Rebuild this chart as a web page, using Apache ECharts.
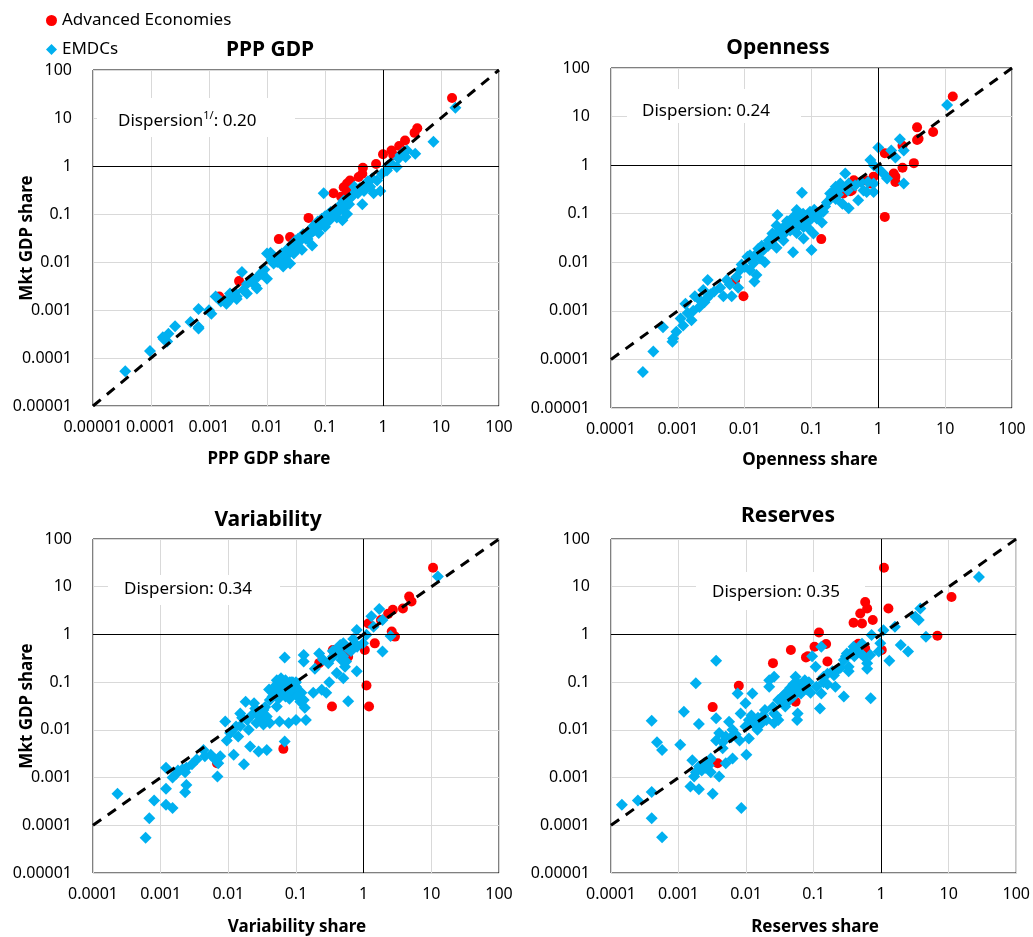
<!DOCTYPE html>
<html>
<head>
<meta charset="utf-8">
<title>Mkt GDP share vs quota variables</title>
<script src="https://cdn.jsdelivr.net/npm/echarts/dist/echarts.min.js"></script>
<style>
  html, body { margin: 0; padding: 0; background: #fff; }
  #main { width: 1033px; height: 937px; }
</style>
</head>
<body>
<div id="main"></div>
<script>
  // panel titles / axis names / dispersion notes
  const panelTitles = ['PPP GDP', 'Openness', 'Variability', 'Reserves'];
  const xNames = ['PPP GDP share', 'Openness share', 'Variability share', 'Reserves share'];
  const yName = 'Mkt GDP share';
  const dispersion = ['0.20', '0.24', '0.34', '0.35'];
  const xMins = [0.00001, 0.0001, 0.0001, 0.0001];
  const yMin = 0.00001;
  const axisMax = 100;

  // 45 degree reference lines
  const diagPPP = [[0.00001, 0.00001], [100, 100]];
  const diagOpen = [[0.0001, 0.0001], [100, 100]];
  const diagVar = [[0.0001, 0.0001], [100, 100]];
  const diagRes = [[0.0001, 0.0001], [100, 100]];

  // [x share, mkt GDP share]
  const pppAdv = [
    [15.5, 26], [3.9, 6.1], [3.5, 4.9], [2.4, 3.4], [1.9, 2.6], [1.4, 2.1], [1.5, 1.7], [1.0, 1.75],
    [0.76, 1.1], [0.45, 0.92], [0.44, 0.69], [0.38, 0.59], [0.27, 0.5], [0.24, 0.43], [0.21, 0.36],
    [0.24, 0.29], [0.14, 0.27], [0.19, 0.23], [0.052, 0.083], [0.016, 0.030], [0.025, 0.033],
    [0.0033, 0.004], [0.0015, 0.0019]
  ];
  const pppEm = [
    [3.6e-5, 5.3e-5], [9.6e-5, 1.4e-4], [1.6e-4, 2.7e-4], [1.9e-4, 2.2e-4], [2.0e-4, 3.2e-4], [2.6e-4, 4.6e-4],
    [4.8e-4, 5.6e-4], [6.6e-4, 4.4e-4], [6.6e-4, 1.05e-3], [1.0e-3, 9.9e-4], [1.1e-3, 8.4e-4], [1.3e-3, 1.9e-3],
    [1.6e-3, 1.5e-3], [2.0e-3, 1.35e-3], [2.3e-3, 2.2e-3], [3.0e-3, 1.7e-3], [3.7e-3, 6.2e-3], [3.9e-3, 2.6e-3],
    [4.5e-3, 2.2e-3], [6.3e-3, 3.2e-3], [6.7e-3, 2.8e-3], [8.2e-3, 5.6e-3], [0.010, 4.5e-3], [0.0115, 0.0155],
    [0.013, 0.0093], [0.016, 0.0115], [0.019, 0.0081], [0.022, 0.0137], [0.025, 0.0093], [0.029, 0.015],
    [0.027, 0.020], [0.033, 0.022], [0.037, 0.028], [0.040, 0.018], [0.049, 0.040], [0.060, 0.022],
    [0.064, 0.045], [0.073, 0.063], [0.078, 0.040], [0.095, 0.27], [0.10, 0.054], [0.12, 0.074],
    [0.14, 0.10], [0.16, 0.085], [0.18, 0.12], [0.20, 0.074], [0.22, 0.14], [0.24, 0.10], [0.21, 0.19],
    [0.32, 0.37], [0.37, 0.27], [0.44, 0.16], [0.47, 0.30], [0.60, 0.37], [0.69, 0.27], [0.90, 0.30],
    [0.79, 0.50], [0.96, 0.69], [1.17, 0.81], [1.73, 0.95], [1.86, 1.43], [2.45, 1.54], [2.6, 2.1],
    [3.6, 1.8], [7.4, 3.2], [17.7, 16.4],
    [0.03, 0.025], [0.045, 0.035], [0.055, 0.045], [0.07, 0.05], [0.085, 0.06], [0.11, 0.08], [0.13, 0.09],
    [0.05, 0.03], [0.035, 0.02], [0.02, 0.012], [0.015, 0.01], [0.04, 0.03], [0.09, 0.07], [0.06, 0.05],
    [0.008, 0.006], [0.012, 0.011], [1.65e-4, 2.5e-4], [3.0e-3, 1.9e-3], [6.6e-4, 4.1e-4], [0.01, 0.015],
    [0.0055, 0.004], [0.007, 0.005], [0.009, 0.007], [0.014, 0.012], [0.017, 0.013], [0.018, 0.015],
    [0.021, 0.016], [0.023, 0.019], [0.026, 0.017], [0.028, 0.024], [0.031, 0.028], [0.034, 0.03],
    [0.038, 0.033], [0.042, 0.038], [0.047, 0.03], [0.052, 0.042], [0.058, 0.04], [0.062, 0.055],
    [0.067, 0.06], [0.075, 0.07], [0.082, 0.065], [0.088, 0.08], [0.1, 0.09], [0.105, 0.07],
    [0.115, 0.1], [0.125, 0.11], [0.15, 0.12], [0.17, 0.14], [0.19, 0.16], [0.25, 0.2], [0.28, 0.22],
    [0.3, 0.25], [0.26, 0.16], [0.35, 0.3], [0.4, 0.35], [0.5, 0.42], [0.55, 0.48], [0.65, 0.55],
    [1.2, 1.0], [1.4, 1.1], [2.0, 1.7], [2.2, 1.9], [0.0045, 0.0035], [0.0025, 0.0018], [0.0028, 0.0023],
    [0.002, 0.0016]
  ];

  const openAdv = [
    [13, 26], [3.8, 6.0], [6.6, 4.8], [3.8, 3.3], [4.0, 3.5], [2.3, 2.5], [1.25, 1.75], [3.4, 1.1],
    [2.3, 0.88], [1.7, 0.67], [1.8, 0.58], [1.8, 0.45], [0.85, 0.58], [0.64, 0.49], [0.76, 0.42],
    [0.43, 0.49], [0.40, 0.30], [0.30, 0.26], [1.25, 0.086], [0.14, 0.03], [0.0096, 0.002],
    [0.0072, 0.0043], [0.38, 0.29]
  ];
  const openEm = [
    [10.7, 17.4], [2.1, 3.4], [1.0, 2.3], [1.56, 2.0], [2.4, 2.0], [1.8, 1.44], [0.76, 1.27], [0.85, 1.0],
    [1.0, 0.85], [1.19, 0.67], [1.35, 0.53], [0.85, 0.42], [0.85, 0.28], [2.4, 0.42], [0.67, 0.28],
    [0.50, 0.19], [0.32, 0.67], [0.36, 0.42], [0.27, 0.42], [0.23, 0.36], [0.19, 0.26], [0.23, 0.20],
    [0.36, 0.13], [0.29, 0.16], [0.072, 0.27], [0.16, 0.14], [0.107, 0.10], [0.09, 0.072], [0.143, 0.066],
    [0.076, 0.053], [0.060, 0.119], [0.053, 0.085], [0.042, 0.06], [0.031, 0.094], [0.030, 0.057],
    [0.026, 0.039], [0.038, 0.028], [0.053, 0.016], [0.10, 0.018], [0.076, 0.031], [0.107, 0.039],
    [0.0225, 0.022], [0.019, 0.018], [0.015, 0.015], [0.020, 0.010], [0.0135, 0.0095], [0.011, 0.013],
    [0.010, 0.008], [0.012, 0.0069], [0.015, 0.0055], [0.014, 0.004], [0.0085, 0.0069], [0.008, 0.003],
    [0.0054, 0.0043], [0.0043, 0.003], [0.0048, 0.002], [0.0064, 0.002], [0.0028, 0.0043], [0.0024, 0.0027],
    [0.0027, 0.0018], [0.0018, 0.002], [0.0021, 0.0012], [0.0017, 0.001], [0.0013, 0.0014], [0.0016, 0.00064],
    [0.0012, 0.0005], [0.00095, 0.00037], [0.00085, 0.00027], [0.00083, 0.00023], [0.0006, 0.00046],
    [0.00043, 0.000145], [0.0003, 5.5e-5],
    [0.04, 0.04], [0.05, 0.06], [0.065, 0.07], [0.08, 0.09], [0.11, 0.12], [0.12, 0.08], [0.045, 0.05],
    [0.035, 0.035], [0.02, 0.02], [0.025, 0.025], [0.017, 0.012], [0.03, 0.02], [0.06, 0.04], [0.09, 0.05],
    [0.7, 0.45], [0.6, 0.3], [0.55, 0.45], [0.45, 0.38], [0.35, 0.3],
    [0.033, 0.045], [0.038, 0.05], [0.043, 0.07], [0.048, 0.045], [0.055, 0.07], [0.058, 0.05],
    [0.062, 0.085], [0.07, 0.06], [0.075, 0.1], [0.085, 0.065], [0.095, 0.11], [0.1, 0.08], [0.13, 0.1],
    [0.15, 0.11], [0.17, 0.17], [0.2, 0.22], [0.22, 0.3], [0.25, 0.25], [0.28, 0.35], [0.027, 0.03],
    [0.023, 0.028], [0.018, 0.022], [0.016, 0.019], [0.013, 0.011], [0.012, 0.014], [0.009, 0.009],
    [0.0075, 0.005], [0.006, 0.0035], [0.0035, 0.0025], [0.0031, 0.0022], [0.0025, 0.0015],
    [0.0022, 0.0016], [0.0014, 0.0009], [0.0011, 0.0007]
  ];

  const varAdv = [
    [10.6, 25], [4.7, 6.2], [5.1, 4.9], [3.8, 3.5], [2.7, 3.3], [2.3, 2.7], [1.8, 2.0], [1.17, 1.7],
    [2.6, 1.15], [2.9, 0.9], [1.46, 0.65], [1.04, 0.47], [1.1, 0.085], [1.2, 0.031], [0.34, 0.031],
    [0.22, 0.25], [0.35, 0.47], [0.53, 0.40], [0.59, 0.34], [0.065, 0.004], [0.0068, 0.002]
  ];
  const varEm = [
    [12.5, 16.3], [1.7, 3.4], [1.3, 2.4], [1.4, 1.45], [1.9, 2.0], [0.79, 1.24], [1.1, 0.98], [0.98, 0.65],
    [0.74, 0.65], [1.9, 0.44], [2.5, 0.93], [0.50, 0.65], [0.42, 0.51], [0.35, 0.34], [0.47, 0.29],
    [0.53, 0.21], [0.79, 0.17], [0.40, 0.155], [0.31, 0.10], [0.5, 0.12], [0.59, 0.04], [0.22, 0.40],
    [0.13, 0.37], [0.13, 0.27], [0.068, 0.33], [0.19, 0.19], [0.24, 0.069], [0.28, 0.06], [0.18, 0.06],
    [0.13, 0.042], [0.135, 0.029], [0.14, 0.016], [0.10, 0.016], [0.078, 0.014], [0.068, 0.0057],
    [0.052, 0.11], [0.057, 0.081], [0.081, 0.10], [0.09, 0.06], [0.11, 0.064], [0.116, 0.039], [0.046, 0.06],
    [0.041, 0.042], [0.052, 0.031], [0.033, 0.026], [0.037, 0.019], [0.030, 0.018], [0.026, 0.014],
    [0.033, 0.013], [0.041, 0.014], [0.057, 0.015], [0.024, 0.036], [0.018, 0.039], [0.015, 0.022],
    [0.019, 0.016], [0.020, 0.010], [0.013, 0.0117], [0.0106, 0.0086], [0.009, 0.015], [0.0095, 0.006],
    [0.014, 0.0073], [0.021, 0.0045], [0.028, 0.0035], [0.037, 0.0038], [0.012, 0.003], [0.017, 0.0019],
    [0.0076, 0.0028], [0.0064, 0.0024], [0.0071, 0.002], [0.0069, 0.00105], [0.0043, 0.0038],
    [0.0034, 0.0024], [0.0029, 0.0019], [0.0024, 0.0016], [0.0023, 0.0013], [0.0017, 0.0012],
    [0.0015, 0.001], [0.0012, 0.0016], [0.0024, 0.0007], [0.0023, 0.00049], [0.0012, 0.00058],
    [0.0012, 0.00027], [0.0015, 0.00023], [0.0008, 0.00033], [0.00023, 0.00046], [0.00068, 0.00014],
    [0.0006, 5.5e-5],
    [0.06, 0.09], [0.065, 0.07], [0.075, 0.085], [0.085, 0.075], [0.05, 0.06], [0.045, 0.05], [0.1, 0.08],
    [0.12, 0.06], [0.09, 0.1], [0.07, 0.05], [0.035, 0.03], [0.025, 0.028], [0.015, 0.012], [0.011, 0.009],
    [0.6, 0.5], [0.45, 0.4], [0.65, 0.45], [0.8, 0.55], [0.55, 0.27], [0.5, 0.35],
    [0.055, 0.1], [0.06, 0.12], [0.065, 0.085], [0.07, 0.11], [0.075, 0.06], [0.08, 0.045], [0.085, 0.1],
    [0.095, 0.085], [0.1, 0.1], [0.105, 0.05], [0.06, 0.06], [0.048, 0.08], [0.04, 0.07], [0.055, 0.045],
    [0.3, 0.25], [0.35, 0.45], [0.4, 0.5], [0.45, 0.6], [0.55, 0.55], [0.7, 0.8], [0.25, 0.3],
    [0.028, 0.022], [0.022, 0.02], [0.016, 0.018], [0.0045, 0.0028], [0.0055, 0.003], [0.0018, 0.0014],
    [0.0021, 0.0015]
  ];

  const resAdv = [
    [1.1, 25], [11, 6.1], [6.8, 0.94], [1.28, 3.5], [0.58, 4.8], [0.62, 3.5], [0.49, 2.75], [0.52, 1.7],
    [0.39, 1.75], [0.75, 2.0], [1.02, 0.47], [0.58, 0.51], [0.46, 0.64], [0.12, 1.1], [0.153, 0.63],
    [0.103, 0.55], [0.082, 0.35], [0.077, 0.33], [0.16, 0.27], [0.046, 0.47], [0.025, 0.25],
    [0.0078, 0.084], [0.0032, 0.03], [0.054, 0.039], [0.0038, 0.002]
  ];
  const resEm = [
    [28, 16], [3.8, 3.5], [3.2, 2.35], [3.6, 2.0], [1.6, 1.45], [1.08, 1.23], [0.72, 0.97], [4.6, 0.89],
    [1.95, 0.6], [2.5, 0.44], [1.32, 0.28], [0.97, 0.65], [0.92, 0.44], [0.69, 0.37], [0.62, 0.25],
    [0.62, 0.19], [0.52, 0.64], [0.39, 0.55], [0.31, 0.40], [0.28, 0.29], [0.33, 0.21], [0.235, 0.19],
    [0.20, 0.14], [0.33, 0.17], [0.70, 0.046], [0.13, 0.55], [0.095, 0.35], [0.107, 0.21], [0.14, 0.13],
    [0.21, 0.08], [0.28, 0.05], [0.13, 0.058], [0.124, 0.028], [0.11, 0.08], [0.074, 0.11], [0.058, 0.08],
    [0.065, 0.058], [0.048, 0.068], [0.038, 0.058], [0.054, 0.13], [0.026, 0.13], [0.022, 0.11],
    [0.022, 0.08], [0.030, 0.042], [0.038, 0.031], [0.058, 0.022], [0.057, 0.016], [0.026, 0.022],
    [0.030, 0.016], [0.026, 0.014], [0.019, 0.026], [0.020, 0.016], [0.0124, 0.058], [0.0098, 0.036],
    [0.0083, 0.022], [0.011, 0.016], [0.0147, 0.01], [0.0098, 0.0117], [0.011, 0.0066], [0.008, 0.006],
    [0.0101, 0.003], [0.0085, 0.00023], [0.0075, 0.058], [0.0056, 0.0148], [0.0063, 0.01], [0.005, 0.0073],
    [0.004, 0.0086], [0.0036, 0.006], [0.0045, 0.0041], [0.005, 0.002], [0.0063, 0.0025], [0.0036, 0.0175],
    [0.004, 0.00105], [0.0029, 0.0023], [0.0024, 0.002], [0.003, 0.0013], [0.002, 0.0017], [0.0016, 0.0023],
    [0.0017, 0.00105], [0.0015, 0.00065], [0.002, 0.00057], [0.0032, 0.00046], [0.002, 0.0133],
    [0.0018, 0.095], [0.0012, 0.024], [0.0036, 0.28], [0.00106, 0.0049], [0.0004, 0.0155],
    [0.00048, 0.0055], [0.00057, 0.0038], [0.0004, 0.0005], [0.0004, 0.00014], [0.00057, 5.6e-5],
    [0.00025, 0.00033], [0.000145, 0.00027],
    [0.04, 0.06], [0.045, 0.075], [0.035, 0.05], [0.06, 0.09], [0.07, 0.1], [0.08, 0.07], [0.015, 0.018],
    [0.017, 0.014], [0.025, 0.03], [0.032, 0.045], [0.0028, 0.0018], [0.0022, 0.0014], [0.0025, 0.0016],
    [0.19, 0.17], [0.4, 0.35], [0.45, 0.45], [0.14, 0.1], [0.16, 0.09],
    [0.05, 0.09], [0.055, 0.07], [0.065, 0.075], [0.07, 0.08], [0.075, 0.085], [0.085, 0.1], [0.09, 0.06],
    [0.05, 0.05], [0.042, 0.04], [0.035, 0.038], [0.028, 0.02], [0.018, 0.02], [0.013, 0.013], [0.012, 0.02],
    [0.007, 0.008], [0.006, 0.007], [0.0045, 0.0055], [0.3, 0.35], [0.35, 0.4], [0.5, 0.4], [0.55, 0.35],
    [0.25, 0.2], [0.16, 0.15], [0.003, 0.0025], [0.0026, 0.002], [0.0018, 0.0013]
  ];

  const advData = [pppAdv, openAdv, varAdv, resAdv];
  const emData = [pppEm, openEm, varEm, resEm];
  const diagData = [diagPPP, diagOpen, diagVar, diagRes];

  const FONT = '"Noto Sans", "Open Sans", sans-serif';
  const RED = '#ff0000';
  const BLUE = '#00b0f0';

  // plot areas, in page pixels
  const grids = [
    { left: 93, top: 70, width: 406, height: 336 },
    { left: 611, top: 68, width: 401, height: 340 },
    { left: 93, top: 539, width: 406, height: 334 },
    { left: 611, top: 539, width: 407, height: 334 }
  ];
  const titlePos = [[270, 50], [778, 48], [268, 520], [788, 516]];
  const xNamePos = [[269, 459], [810, 460], [297, 927], [815, 927]];
  const noteBox = [[97, 98, 198, 39], [627, 89, 174, 34], [108, 575, 172, 30], [696, 572, 169, 38]];
  const notePos = [[118, 121], [642, 111], [124, 589], [712, 592]];

  function logLabel (v) {
    const e = Math.round(Math.log10(v));
    return e < 0 ? Math.pow(10, e).toFixed(-e) : String(Math.pow(10, e));
  }

  function buildAxis (i, min, isY) {
    const axis = {
      type: 'log',
      logBase: 10,
      gridIndex: i,
      min: min,
      max: axisMax,
      interval: 1,
      axisLine: { show: false },
      axisTick: { show: false },
      axisLabel: {
        formatter: logLabel,
        color: '#000',
        fontSize: 16,
        fontFamily: FONT,
        margin: isY ? 21 : 13
      },
      splitLine: { show: true, lineStyle: { color: '#d9d9d9', width: 1 } }
    };
    if (isY && (i === 0 || i === 2)) {
      axis.name = yName;
      axis.nameLocation = 'middle';
      axis.nameRotate = 90;
      axis.nameGap = 57;
      axis.nameMoveOverlap = false;
      axis.nameTextStyle = { fontWeight: 'bold', fontSize: 17, fontFamily: FONT, color: '#000' };
    }
    return axis;
  }

  const xAxis = [];
  const yAxis = [];
  const series = [];
  const graphic = [];

  for (let i = 0; i < 4; i++) {
    xAxis.push(buildAxis(i, xMins[i], false));
    yAxis.push(buildAxis(i, yMin, true));

    series.push({
      name: 'Advanced Economies',
      type: 'scatter',
      xAxisIndex: i,
      yAxisIndex: i,
      symbol: 'circle',
      symbolSize: 10,
      itemStyle: { color: RED, opacity: 1 },
      data: advData[i],
      z: 2
    });
    series.push({
      name: 'EMDCs',
      type: 'scatter',
      xAxisIndex: i,
      yAxisIndex: i,
      symbol: 'diamond',
      symbolSize: 12,
      itemStyle: { color: BLUE, opacity: 1 },
      data: emData[i],
      z: 3
    });
    series.push({
      type: 'line',
      xAxisIndex: i,
      yAxisIndex: i,
      data: diagData[i],
      showSymbol: false,
      symbol: 'none',
      lineStyle: { color: '#000', width: 3, type: [10, 8] },
      z: 4,
      markLine: {
        silent: true,
        symbol: 'none',
        label: { show: false },
        lineStyle: { color: '#000', width: 1, type: 'solid' },
        data: [{ xAxis: 1 }, { yAxis: 1 }]
      }
    });

    graphic.push({
      type: 'text', x: titlePos[i][0], y: titlePos[i][1], z: 5,
      style: { text: panelTitles[i], font: 'bold 21px ' + FONT, fill: '#000', textAlign: 'center', verticalAlign: 'middle' }
    });
    graphic.push({
      type: 'text', x: xNamePos[i][0], y: xNamePos[i][1], z: 5,
      style: { text: xNames[i], font: 'bold 17px ' + FONT, fill: '#000', textAlign: 'center', verticalAlign: 'middle' }
    });
    graphic.push({
      type: 'rect', z: 1,
      shape: { x: noteBox[i][0], y: noteBox[i][1], width: noteBox[i][2], height: noteBox[i][3] },
      style: { fill: '#fff' }
    });
    graphic.push({
      type: 'text', x: notePos[i][0], y: notePos[i][1], z: 2,
      style: {
        text: i === 0 ? 'Dispersion{sup|1/}: ' + dispersion[i] : 'Dispersion: ' + dispersion[i],
        font: '17px ' + FONT,
        fill: '#000',
        verticalAlign: 'middle',
        rich: {
          sup: { fontSize: 11, fontFamily: FONT, verticalAlign: 'top', lineHeight: 22 }
        }
      }
    });
  }

  const chart = echarts.init(document.getElementById('main'));
  chart.setOption({
    animation: false,
    backgroundColor: '#fff',
    grid: grids.map(g => Object.assign({ show: true, borderColor: '#000', borderWidth: 1, backgroundColor: 'transparent' }, g)),
    legend: {
      data: [{ name: 'Advanced Economies', icon: 'circle' }, { name: 'EMDCs', icon: 'diamond' }],
      orient: 'vertical',
      left: 46,
      top: 12,
      padding: 0,
      itemWidth: 11,
      itemHeight: 11,
      itemGap: 12,
      textStyle: { fontSize: 17, fontFamily: FONT, color: '#000' }
    },
    xAxis: xAxis,
    yAxis: yAxis,
    series: series,
    graphic: graphic
  });
</script>
</body>
</html>
